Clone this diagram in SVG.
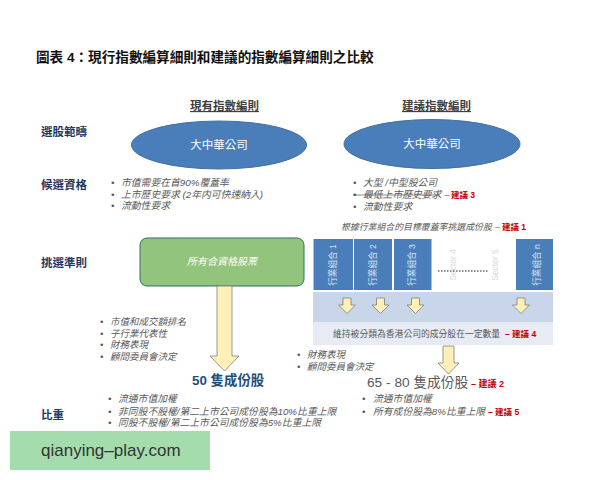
<svg xmlns="http://www.w3.org/2000/svg" width="600" height="480" viewBox="0 0 600 480">
<defs>
<style>
text{font-family:"Liberation Sans","Noto Sans CJK TC",sans-serif}
.h{font-size:11.5px;fill:#404040;font-weight:bold;text-decoration:underline}
.l{font-size:11.5px;fill:#1f3864;font-weight:bold}
.i{font-size:9.8px;fill:#595959;font-style:italic}
.s{font-size:9.5px;fill:#595959;font-style:italic}
.t{font-size:8.900px;fill:#595959;font-style:italic}
.b{font-size:8.800px;fill:#595959}
.r{fill:#c00000;font-weight:bold;font-style:normal;font-size:8.500px}
.e{fill:#4a7ebb;stroke:#41719c;stroke-width:1}
.w{font-size:11.5px;fill:#fff;text-anchor:middle}
.cell{fill:#4a7ebb}
.ct{font-size:8.600px;fill:#dbe5f1;text-anchor:middle}
.gh{font-size:8.500px;fill:#d9d9d9;text-anchor:middle}
.a{fill:#fff0b8;stroke:#7f7f7f;stroke-width:.8}
</style>
</defs>
<rect width="600" height="480" fill="#fff"/>
<text x="36" y="62" font-size="13.600" font-weight="bold" fill="#111">圖表 4：現行指數編算細則和建議的指數編算細則之比較</text>
<text class="h" x="190" y="110">現有指數編則</text>
<text class="h" x="402" y="110">建議指數編則</text>
<text class="l" x="41" y="136">選股範疇</text>
<text class="l" x="41" y="189">候選資格</text>
<text class="l" x="41" y="267">挑選準則</text>
<text class="l" x="41" y="419">比重</text>
<g id="node-current-universe"><ellipse class="e" cx="219" cy="145" rx="87.5" ry="24"/><text class="w" x="219" y="149">大中華公司</text></g>
<g id="node-proposed-universe"><ellipse class="e" cx="432" cy="144" rx="88" ry="24.5"/><text class="w" x="432" y="148">大中華公司</text></g>
<g id="current-eligibility">
<text class="i" y="186"><tspan x="111">•</tspan><tspan x="121">市值需要在首90%覆蓋率</tspan></text>
<text class="i" y="198"><tspan x="111">•</tspan><tspan x="121">上市歷史要求 (2年内可快速納入)</tspan></text>
<text class="i" y="209"><tspan x="111">•</tspan><tspan x="121">流動性要求</tspan></text></g>
<g id="proposed-eligibility">
<text class="i" y="186"><tspan x="353">•</tspan><tspan x="363">大型 /中型股公司</tspan></text>
<text class="i" y="198"><tspan x="353">•</tspan><tspan x="363">最低上市歷史要求 –</tspan><tspan class="r" x="451">建議 3</tspan></text>
<line x1="353" y1="195" x2="439" y2="195" stroke="#595959" stroke-width=".7"/>
<text class="i" y="210"><tspan x="353">•</tspan><tspan x="363">流動性要求</tspan></text></g>
<text class="t" x="341" y="230">根據行業組合的目標覆蓋率挑選成份股<tspan x="495">–</tspan><tspan class="r" x="502">建議 1</tspan></text>
<g id="node-all-eligible"><rect x="140" y="238" width="164" height="48" rx="7" fill="#93c47d" stroke="#2f6f6a" stroke-width="1"/><text x="222" y="265" font-size="10" font-style="italic" fill="#fff" text-anchor="middle">所有合資格股票</text></g>
<g id="node-sectors">
<rect class="cell" x="313.500" y="239" width="39.500" height="51"/>
<rect class="cell" x="354" y="239" width="38" height="51"/>
<rect class="cell" x="394" y="239" width="37.500" height="51"/>
<rect class="cell" x="516" y="239" width="37" height="51"/>
<text class="ct" transform="translate(336,265) rotate(-90)">行業組合 1</text>
<text class="ct" transform="translate(376,265) rotate(-90)">行業組合 2</text>
<text class="ct" transform="translate(415,265) rotate(-90)">行業組合 3</text>
<text class="gh" transform="translate(456,265) rotate(-90)">Sector 4</text>
<text class="gh" transform="translate(498,265) rotate(-90)">Sector 5</text>
<text class="ct" transform="translate(540,265) rotate(-90)">行業組合 n</text>
<line x1="438" y1="271" x2="488" y2="271" stroke="#222" stroke-width="1.200" stroke-dasharray="1.500 1.500"/>
</g>
<g id="node-band">
<rect x="313" y="292" width="240" height="30" fill="#c9d6ea"/>
<rect x="313" y="322" width="240" height="23" fill="#e6ebf4"/>
<text class="b" x="333" y="337">維持被分類為香港公司的成分股在一定數量<tspan class="r" x="505">– 建議 4</tspan></text>
</g>
<g id="connectors">
<path class="a" d="M343 298h8v7h4.500l-8.500 8.500-8.500-8.500h4.500z"/>
<path class="a" d="M376.500 298h8v7h4.500l-8.500 8.500-8.500-8.500h4.500z"/>
<path class="a" d="M411.500 298h8v7h4.500l-8.500 8.500-8.500-8.500h4.500z"/>
<path class="a" d="M517 298h8v7h4.500l-8.500 8.500-8.500-8.500h4.500z"/>
<path class="a" d="M217 286h15v70h7l-14.500 15-14.500-15h7z"/>
<path class="a" d="M443 346h11v17h5l-10.500 11-10.500-11h5z"/>
</g>
<g id="current-selection">
<text class="s" y="325"><tspan x="100">•</tspan><tspan x="110">市值和成交額排名</tspan></text>
<text class="s" y="337"><tspan x="100">•</tspan><tspan x="110">子行業代表性</tspan></text>
<text class="s" y="348"><tspan x="100">•</tspan><tspan x="110">財務表現</tspan></text>
<text class="s" y="360"><tspan x="100">•</tspan><tspan x="110">顧問委員會決定</tspan></text></g>
<text x="192" y="385" font-size="13.400" font-weight="bold" fill="#1f4e79">50 隻成份股</text>
<g id="proposed-selection">
<text class="s" y="358"><tspan x="297">•</tspan><tspan x="307">財務表現</tspan></text>
<text class="s" y="370"><tspan x="297">•</tspan><tspan x="307">顧問委員會決定</tspan></text></g>
<text x="367" y="387" font-size="13.700" fill="#595959">65 - 80 隻成份股<tspan x="471" fill="#c00000" font-size="9" font-weight="bold">– 建議 2</tspan></text>
<g id="current-weight">
<text class="i" y="402"><tspan x="108">•</tspan><tspan x="118">流通市值加權</tspan></text>
<text class="i" y="415"><tspan x="108">•</tspan><tspan x="118">非同股不股權/第二上市公司成份股為10%比重上限</tspan></text>
<text class="i" y="426"><tspan x="108">•</tspan><tspan x="118">同股不股權/第二上市公司成份股為5%比重上限</tspan></text></g>
<g id="proposed-weight">
<text class="i" y="402"><tspan x="362">•</tspan><tspan x="373">流通市值加權</tspan></text>
<text class="i" y="415"><tspan x="362">•</tspan><tspan x="373">所有成份股為8%比重上限</tspan><tspan class="r" x="488">– 建議 5</tspan></text></g>
<g id="node-watermark"><rect x="10" y="431" width="200" height="39" fill="#a5dcae"/><text x="41" y="456" font-size="17" fill="#333">qianying–play.com</text></g>
</svg>
